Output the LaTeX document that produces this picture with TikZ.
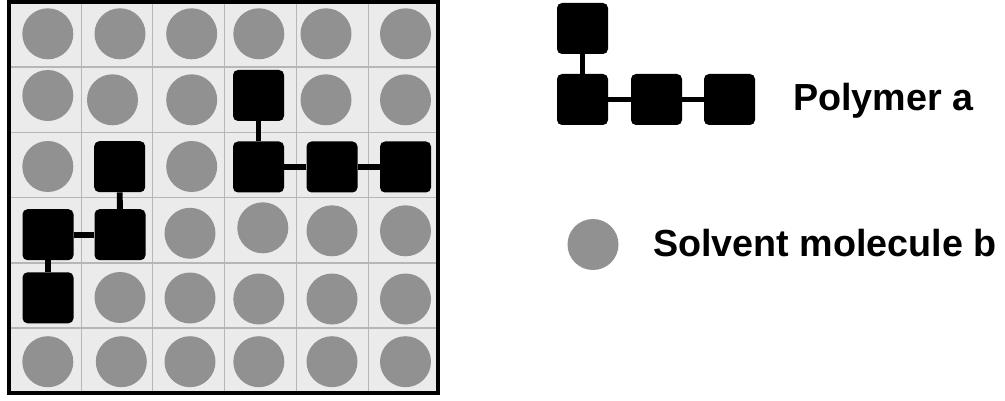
\documentclass[tikz,border=0pt]{standalone}
\usepackage{fontspec}
\setmainfont{Liberation Sans}
\definecolor{cellbg}{RGB}{235,235,235}
\definecolor{gridln}{RGB}{182,182,182}
\definecolor{solv}{RGB}{145,145,145}
\begin{document}
\begin{tikzpicture}[x=1pt, y=-1pt,
  mono/.style={fill=black, rounded corners=5pt, minimum width=51pt, minimum height=51pt, inner sep=0pt},
  solvent/.style={circle, fill=solv, minimum size=51pt, inner sep=0pt},
  bond/.style={line width=5.8pt},
  lbl/.style={anchor=base west, font=\fontsize{37.7}{40}\selectfont\bfseries, inner sep=0pt}]
\useasboundingbox (0,0) rectangle (1005,401);
% lattice
\fill[cellbg] (9,2) rectangle (438,393);
\foreach \gx in {81.7,152.7,224.7,296.7,368.3} \draw[gridln, line width=1.5pt] (\gx,2) -- (\gx,393);
\foreach \gy in {67.2,132.4,197.6,262.8,328} \draw[gridln, line width=1.5pt] (9,\gy) -- (438,\gy);
\draw[line width=4pt] (9,2) rectangle (438,393);
% solvent molecules
\foreach \px/\py [count=\k] in {47.8/33.8,120/33.8,191.7/33.8,258.8/33.8,326/33.8,405.5/33.8,
  47.8/95.5,112.5/99.8,191.7/99.8,326/99.8,405.5/99.8,
  47.8/166.5,191.7/166.5,
  190/233.3,262.8/227.8,332/230.8,405.5/230.8,
  120/297.5,190/298,258.8/299,332/299,405.5/299,
  47.8/361.7,121.3/361.7,190/361.7,258.8/361.7,332/361.7,405.5/361.7}
  \node[solvent] (s\k) at (\px,\py) {};
% polymer chains
\node[mono] (a1) at (119.7,166.7) {};
\node[mono] (a2) at (48,234.7) {};
\node[mono] (a3) at (120,234.7) {};
\node[mono] (a4) at (48,297.8) {};
\draw[bond] (a1) -- (a3);
\draw[bond] (a2) -- (a3);
\draw[bond] (a2) -- (a4);
\node[mono] (b1) at (258.5,95.5) {};
\node[mono] (b2) at (258.5,167) {};
\node[mono] (b3) at (332,167) {};
\node[mono] (b4) at (405.5,167) {};
\draw[bond] (b1) -- (b2);
\draw[bond] (b2) -- (b3);
\draw[bond] (b3) -- (b4);
% legend
\node[mono] (p1) at (582.5,28.5) {};
\node[mono] (p2) at (582.5,99.5) {};
\node[mono] (p3) at (656.5,99.5) {};
\node[mono] (p4) at (729.5,99.5) {};
\draw[bond] (p1) -- (p2);
\draw[bond] (p2) -- (p3);
\draw[bond] (p3) -- (p4);
\node[lbl] (ptxt) at (793,111) {Polymer a};
\node[solvent] (key) at (593,244.5) {};
\node[lbl] (stxt) at (653,256.7) {Solvent molecule b};
\end{tikzpicture}
\end{document}
